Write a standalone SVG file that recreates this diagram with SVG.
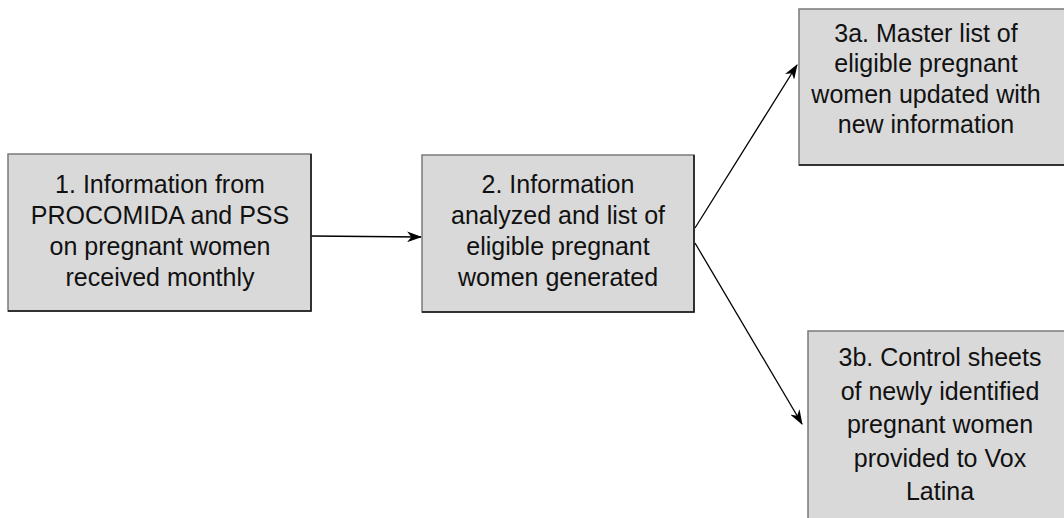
<svg xmlns="http://www.w3.org/2000/svg" width="1064" height="518" viewBox="0 0 1064 518">
<style>
.box{fill:#d9d9d9;stroke:#7a7a7a;stroke-width:1.5}
.shadow{fill:none;stroke:#111;stroke-width:1.5}
.t{font-family:"Liberation Sans",Arial,sans-serif;font-size:25px;fill:#111;text-anchor:middle}
.c{fill:none;stroke:#000;stroke-width:1.3}
</style>
<defs>
<marker id="ah" viewBox="0 0 14 10" refX="13" refY="5" markerWidth="15" markerHeight="11" markerUnits="userSpaceOnUse" orient="auto">
<path d="M0,0 L14,5 L0,10 L4,5 z" fill="#000"/>
</marker>
</defs>
<rect width="1064" height="518" fill="#fff"/>
<g id="connectors">
<line class="c" x1="311" y1="236" x2="421" y2="237" marker-end="url(#ah)"/>
<line class="c" x1="695" y1="228" x2="797" y2="65" marker-end="url(#ah)"/>
<line class="c" x1="695" y1="243" x2="802" y2="424" marker-end="url(#ah)"/>
</g>
<g id="node1">
<rect class="box" x="8" y="154" width="303" height="157"/>
<path class="shadow" d="M8,311 H311 V154"/>
<text class="t" x="160" y="193">1. Information from</text>
<text class="t" x="160" y="224">PROCOMIDA and PSS</text>
<text class="t" x="160" y="255">on pregnant women</text>
<text class="t" x="160" y="286">received monthly</text>
</g>
<g id="node2">
<rect class="box" x="422" y="155" width="272" height="157"/>
<path class="shadow" d="M422,312 H694 V155"/>
<text class="t" x="558" y="193">2. Information</text>
<text class="t" x="558" y="224">analyzed and list of</text>
<text class="t" x="558" y="255">eligible pregnant</text>
<text class="t" x="558" y="286">women generated</text>
</g>
<g id="node3a">
<rect class="box" x="799" y="9" width="280" height="156"/>
<path class="shadow" d="M799,165 H1070"/>
<text class="t" x="926" y="41.5">3a. Master list of</text>
<text class="t" x="926" y="72">eligible pregnant</text>
<text class="t" x="926" y="102.5">women updated with</text>
<text class="t" x="926" y="133">new information</text>
</g>
<g id="node3b">
<rect class="box" x="808" y="331" width="280" height="200"/>
<text class="t" x="940" y="366">3b. Control sheets</text>
<text class="t" x="940" y="399.5">of newly identified</text>
<text class="t" x="940" y="433">pregnant women</text>
<text class="t" x="940" y="466.5">provided to Vox</text>
<text class="t" x="940" y="500">Latina</text>
</g>
</svg>
